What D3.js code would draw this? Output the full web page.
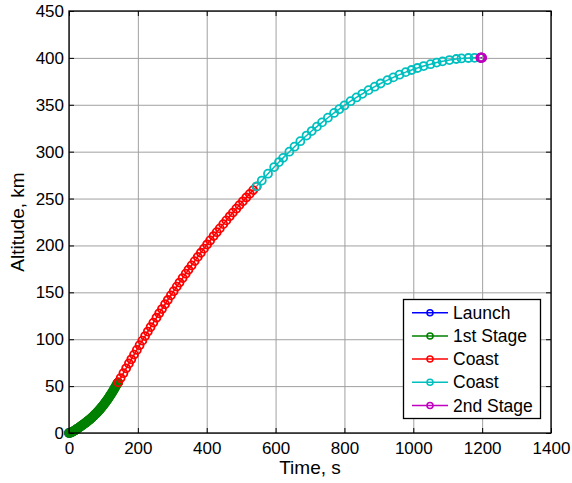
<!DOCTYPE html>
<html>
<head>
<meta charset="utf-8">
<script src="https://cdn.jsdelivr.net/npm/d3@7"></script>
<style>
  body { margin: 0; background: #fff; }
  svg { display: block; font-family: "Liberation Sans", Arial, sans-serif; }
</style>
</head>
<body>
<div id="chart"></div>
<script>
// tick labels
var xTicks = [0, 200, 400, 600, 800, 1000, 1200, 1400];
var yTicks = [0, 50, 100, 150, 200, 250, 300, 350, 400, 450];

// phases (time in s, altitude in km)
var launchT   = [0];
var launchAlt = [0];

var stage1T   = [0, 2, 4, 6, 8, 10, 12, 14, 16, 18, 20, 22, 24, 26, 28, 30, 32, 34, 36, 38,
                 40, 42, 44, 46, 48, 50, 52, 54, 56, 58, 60, 62, 64, 66, 68, 70, 72, 74, 76, 78,
                 80, 82, 84, 86, 88, 90, 92, 94, 96, 98, 100, 102, 104, 106, 108, 110, 112, 114, 116, 118,
                 120, 122, 124, 126, 128, 130, 132, 134, 136, 138, 140, 142, 143];
var stage1Alt = [0, 0.1, 0.3, 0.6, 0.9, 1.3, 1.7, 2.1, 2.6, 3.0, 3.5, 4.0, 4.5, 5.0, 5.5, 6.0, 6.6, 7.1, 7.6, 8.2,
                 8.7, 9.2, 9.8, 10.3, 10.9, 11.5, 12.0, 12.6, 13.2, 13.8, 14.4, 15.0, 15.6, 16.3, 17.0, 17.7, 18.4, 19.1, 19.9, 20.6,
                 21.4, 22.1, 22.9, 23.7, 24.5, 25.3, 26.2, 27.1, 28.0, 28.9, 29.9, 30.8, 31.8, 32.8, 33.8, 34.8, 35.8, 36.9, 38.0, 39.1,
                 40.2, 41.3, 42.5, 43.7, 44.9, 46.1, 47.4, 48.7, 50.0, 51.3, 52.7, 53.6, 54.0];

var coast1T   = [143, 150, 158, 166, 174, 181, 189, 197, 205, 213, 221, 229, 237, 245, 254, 262, 270, 279, 287, 296,
                 304, 313, 321, 330, 339, 347, 356, 365, 374, 383, 392, 401, 410, 420, 429, 438, 448, 457, 467, 476,
                 486, 495, 505, 515, 525, 535, 545];
var coast1Alt = [54.0, 58.6, 63.8, 69.0, 74.1, 78.6, 83.6, 88.6, 93.6, 98.5, 103.4, 108.2, 113.0, 117.7, 122.9, 127.6, 132.2, 137.3, 141.8, 146.8,
                 151.2, 156.1, 160.4, 165.2, 169.9, 174.1, 178.7, 183.3, 187.8, 192.2, 196.6, 201.0, 205.3, 210.0, 214.1, 218.2, 222.7, 226.7, 231.1, 235.0,
                 239.2, 243.0, 247.1, 251.1, 255.0, 259.0, 262.8];

var coast2T   = [545, 560, 578, 596, 610, 622, 640, 655, 672, 690, 705, 720, 735, 752, 770, 785, 800, 818, 835, 852,
                 870, 888, 905, 925, 942, 960, 978, 995, 1012, 1030, 1050, 1068, 1085, 1105, 1125, 1140, 1160, 1178, 1195];
var coast2Alt = [263.0, 269.2, 276.5, 283.6, 288.9, 293.4, 300.0, 305.3, 311.2, 317.2, 322.0, 326.7, 331.2, 336.2, 341.3, 345.3, 349.3, 353.8, 357.8, 361.7,
                 365.6, 369.3, 372.7, 376.3, 379.2, 382.1, 384.8, 387.1, 389.2, 391.3, 393.3, 395.0, 396.3, 397.7, 398.8, 399.4, 399.9, 400.1, 400.2];

var stage2T   = [1195, 1196, 1197, 1198, 1199, 1200];
var stage2Alt = [400.2, 400.2, 400.2, 400.2, 400.2, 400.2];

var phaseNames  = ['Launch', '1st Stage', 'Coast', 'Coast', '2nd Stage'];
var phaseColors = ['#0000ff', '#008000', '#ff0000', '#00bfbf', '#bf00bf'];

var phases = [
    [launchT, launchAlt],
    [stage1T, stage1Alt],
    [coast1T, coast1Alt],
    [coast2T, coast2Alt],
    [stage2T, stage2Alt]
].map(function(p) {
    return p[0].map(function(t, i) { return { t: t, alt: p[1][i] }; });
});

var width = 572, height = 483;
var plotLeft = 69, plotRight = 551, plotTop = 11, plotBottom = 433;

var x = d3.scaleLinear().domain([0, 1400]).range([plotLeft, plotRight]);
var y = d3.scaleLinear().domain([0, 450]).range([plotBottom, plotTop]);

var svg = d3.select('#chart').append('svg')
    .attr('width', width)
    .attr('height', height);

// grid
function styleGrid(g) {
    g.select('.domain').remove();
    g.selectAll('line').attr('stroke', '#a0a0a0').attr('stroke-width', 1);
}
svg.append('g')
    .attr('transform', 'translate(0,' + plotBottom + ')')
    .call(d3.axisBottom(x).tickValues(xTicks).tickSize(-(plotBottom - plotTop)).tickFormat(''))
    .call(styleGrid);
svg.append('g')
    .attr('transform', 'translate(' + plotLeft + ',0)')
    .call(d3.axisLeft(y).tickValues(yTicks).tickSize(-(plotRight - plotLeft)).tickFormat(''))
    .call(styleGrid);

// series
var line = d3.line()
    .x(function(d) { return x(d.t); })
    .y(function(d) { return y(d.alt); });

phases.forEach(function(data, i) {
    var g = svg.append('g');
    g.append('path')
        .datum(data)
        .attr('d', line)
        .attr('fill', 'none')
        .attr('stroke', phaseColors[i])
        .attr('stroke-width', 1.5);
    g.selectAll('circle')
        .data(data)
        .enter().append('circle')
        .attr('cx', function(d) { return x(d.t); })
        .attr('cy', function(d) { return y(d.alt); })
        .attr('r', 4)
        .attr('fill', 'none')
        .attr('stroke', phaseColors[i])
        .attr('stroke-width', 1.8);
});

// axes with inward ticks on all sides
function styleAxis(g) {
    g.select('.domain').remove();
    g.selectAll('line').attr('stroke', '#000').attr('stroke-width', 1);
    g.selectAll('text').attr('fill', '#000').style('font-size', '17px');
}
svg.append('g')
    .attr('transform', 'translate(0,' + plotBottom + ')')
    .call(d3.axisBottom(x).tickValues(xTicks).tickSize(-5).tickPadding(9).tickFormat(d3.format('d')))
    .call(styleAxis);
svg.append('g')
    .attr('transform', 'translate(0,' + plotTop + ')')
    .call(d3.axisTop(x).tickValues(xTicks).tickSize(-5).tickFormat(''))
    .call(styleAxis);
svg.append('g')
    .attr('transform', 'translate(' + plotLeft + ',0)')
    .call(d3.axisLeft(y).tickValues(yTicks).tickSize(-5).tickPadding(5).tickFormat(d3.format('d')))
    .call(styleAxis);
svg.append('g')
    .attr('transform', 'translate(' + plotRight + ',0)')
    .call(d3.axisRight(y).tickValues(yTicks).tickSize(-5).tickFormat(''))
    .call(styleAxis);

svg.append('rect')
    .attr('x', plotLeft).attr('y', plotTop)
    .attr('width', plotRight - plotLeft).attr('height', plotBottom - plotTop)
    .attr('fill', 'none')
    .attr('stroke', '#000')
    .attr('stroke-width', 1.3);

// axis labels
svg.append('text')
    .attr('x', (plotLeft + plotRight) / 2)
    .attr('y', 474)
    .attr('text-anchor', 'middle')
    .style('font-size', '19px')
    .text('Time, s');
svg.append('text')
    .attr('transform', 'translate(24,' + ((plotTop + plotBottom) / 2) + ') rotate(-90)')
    .attr('text-anchor', 'middle')
    .style('font-size', '19px')
    .text('Altitude, km');

// legend
var legend = svg.append('g');
legend.append('rect')
    .attr('x', 403.5).attr('y', 299.5)
    .attr('width', 137).attr('height', 119)
    .attr('fill', '#fff')
    .attr('stroke', '#000')
    .attr('stroke-width', 1.3);
phaseNames.forEach(function(name, i) {
    var ly = 312.7 + i * 23.2;
    legend.append('line')
        .attr('x1', 412).attr('x2', 448)
        .attr('y1', ly).attr('y2', ly)
        .attr('stroke', phaseColors[i])
        .attr('stroke-width', 1.5);
    legend.append('circle')
        .attr('cx', 430).attr('cy', ly).attr('r', 3)
        .attr('fill', 'none')
        .attr('stroke', phaseColors[i])
        .attr('stroke-width', 1.5);
    legend.append('text')
        .attr('x', 453).attr('y', ly + 6)
        .style('font-size', '17.5px')
        .text(name);
});
</script>
</body>
</html>
